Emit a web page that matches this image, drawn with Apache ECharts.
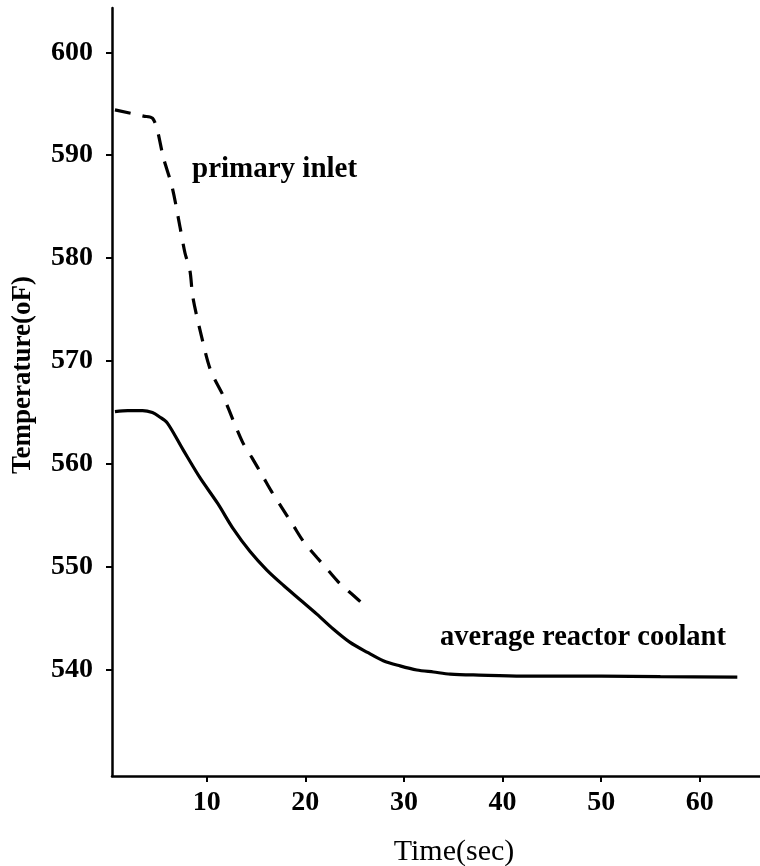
<!DOCTYPE html>
<html>
<head>
<meta charset="utf-8">
<script src="https://cdn.jsdelivr.net/npm/echarts@6/dist/echarts.min.js"></script>
<style>html,body{margin:0;padding:0;background:#fff;}#c{width:760px;height:866px;}</style>
</head>
<body>
<div id="c"></div>
<script>
// Tick labels
const xTicks = [10, 20, 30, 40, 50, 60];
const yTicks = [540, 550, 560, 570, 580, 590, 600];

// average reactor coolant (solid): [time sec, temperature F]
const coolantTime = [0.7, 2, 3.5, 4.5, 5.2, 6.0, 7.6, 9.3, 11.1, 12.7, 14.4, 16.1, 17.8, 19.5, 21.2, 22.8, 24.5, 26.3, 27.9, 29.6, 31.3, 33, 34.7, 37.6, 42, 50, 56, 63.8];
const coolantTemp = [565.1, 565.2, 565.2, 565.0, 564.6, 564.0, 561.4, 558.7, 556.2, 553.7, 551.5, 549.7, 548.2, 546.8, 545.4, 544.0, 542.7, 541.7, 540.9, 540.4, 540.0, 539.8, 539.6, 539.5, 539.4, 539.4, 539.35, 539.3];

// primary inlet (dashed)
const inletTime = [0.7, 3.6, 4.5, 5.0, 5.6, 6.5, 7.3, 7.8, 8.3, 8.6, 9.5, 10.4, 11.7, 12.2, 13.6, 14.6, 15.7, 16.6, 17.6, 18.8, 19.8, 21.2, 22.3, 23.5, 24.8, 26.1];
const inletTemp = [594.4, 593.8, 593.6, 592.4, 589.8, 586.9, 583.0, 580.5, 578.8, 576.2, 572.3, 569.1, 566.6, 565.4, 562.2, 560.6, 558.8, 557.3, 555.8, 554.0, 552.5, 550.9, 549.7, 548.4, 547.3, 546.2];

// Text
const xName = 'Time(sec)';
const yName = 'Temperature(oF)';
const inletLabel = 'primary inlet';
const coolantLabel = 'average reactor coolant';

const coolant = coolantTime.map((t, i) => [t, coolantTemp[i]]);
const inlet = inletTime.map((t, i) => [t, inletTemp[i]]);

const serif = '"Liberation Serif", "DejaVu Serif", serif';
const chart = echarts.init(document.getElementById('c'), null, {renderer: 'canvas'});
chart.setOption({
  animation: false,
  backgroundColor: '#fff',
  grid: {left: 112, right: 0, top: 8, bottom: 90},
  xAxis: {
    type: 'value', min: 0.4, max: 66.1,
    axisLine: {show: true, lineStyle: {color: '#000', width: 2.5}},
    axisTick: {show: true, length: 6, lineStyle: {color: '#000', width: 2}, customValues: xTicks},
    axisLabel: {customValues: xTicks, margin: 13, fontFamily: serif, fontWeight: 'bold', fontSize: 28, color: '#000'},
    splitLine: {show: false}
  },
  yAxis: {
    type: 'value', min: 529.7, max: 604.3,
    axisLine: {show: true, lineStyle: {color: '#000', width: 2.5}},
    axisTick: {show: true, length: 6, lineStyle: {color: '#000', width: 2}, customValues: yTicks},
    axisLabel: {customValues: yTicks, margin: 19, fontFamily: serif, fontWeight: 'bold', fontSize: 28, color: '#000'},
    splitLine: {show: false}
  },
  graphic: [
    {type: 'text', x: 23, y: 375, rotation: Math.PI / 2,
     style: {text: yName, font: 'bold 27px ' + serif, fill: '#000', align: 'center', verticalAlign: 'middle'}},
    {type: 'text', x: 454, y: 852,
     style: {text: xName, font: '30px ' + serif, fill: '#000', align: 'center', verticalAlign: 'middle'}},
    {type: 'text', x: 192, y: 170,
     style: {text: inletLabel, font: 'bold 29px ' + serif, fill: '#000', align: 'left', verticalAlign: 'middle'}},
    {type: 'text', x: 440, y: 638,
     style: {text: coolantLabel, font: 'bold 28.5px ' + serif, fill: '#000', align: 'left', verticalAlign: 'middle'}}
  ],
  series: [
    {type: 'line', name: inletLabel, data: inlet, showSymbol: false, smooth: 0.3,
     lineStyle: {color: '#000', width: 3.2, type: [16, 12]}},
    {type: 'line', name: coolantLabel, data: coolant, showSymbol: false, smooth: 0.3,
     lineStyle: {color: '#000', width: 3.2}}
  ]
});
</script>
</body>
</html>
